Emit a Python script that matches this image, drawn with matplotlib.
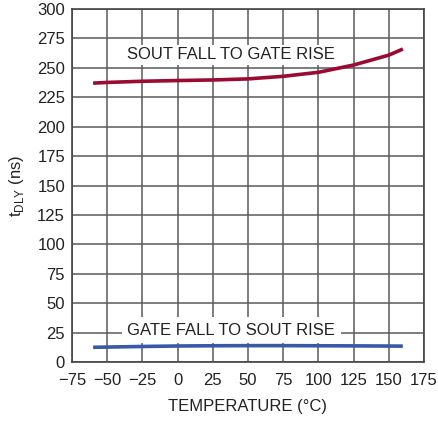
import matplotlib
matplotlib.use("Agg")
import matplotlib.pyplot as plt

# ---------- data ----------
TEMP_SOUT_GATE = [-60, -50, -25, 0, 25, 50, 75, 100, 125, 150, 160]
DLY_SOUT_GATE = [237, 237.6, 238.6, 239.2, 239.7, 240.6, 242.8, 246.2, 252.4, 260.8, 266.0]

TEMP_GATE_SOUT = [-60, -25, 0, 25, 50, 75, 100, 125, 160]
DLY_GATE_SOUT = [12.5, 13.2, 13.6, 13.8, 13.9, 13.9, 13.8, 13.7, 13.5]

X_TICKS = [-75, -50, -25, 0, 25, 50, 75, 100, 125, 150, 175]
X_TICKLABELS = ["\u221275", "\u221250", "\u221225", "0", "25", "50", "75", "100", "125", "150", "175"]
Y_TICKS = [0, 25, 50, 75, 100, 125, 150, 175, 200, 225, 250, 275, 300]

RED = "#9a0a32"
BLUE = "#3a58a8"
GRID = "#5a5a5a"

plt.rcParams["font.family"] = ["Liberation Sans", "DejaVu Sans"]
FS = 12

fig = plt.figure(figsize=(4.38, 4.23), dpi=100)
ax = fig.add_axes([0.1644, 0.1442, 0.8036, 0.8345])

ax.set_xlim(-75, 175)
ax.set_ylim(0, 300)
ax.set_xticks(X_TICKS)
ax.set_xticklabels(X_TICKLABELS)
ax.set_yticks(Y_TICKS)
ax.tick_params(length=0, labelsize=FS, colors="#222222")
ax.tick_params(axis="x", pad=8)
ax.tick_params(axis="y", pad=5)
ax.grid(True, color=GRID, linewidth=1.1)
ax.set_axisbelow(True)
for s in ax.spines.values():
    s.set_color("#444444")
    s.set_linewidth(1.2)

ax.plot(TEMP_SOUT_GATE, DLY_SOUT_GATE, color=RED, linewidth=2.6, solid_capstyle="butt", zorder=3)
ax.plot(TEMP_GATE_SOUT, DLY_GATE_SOUT, color=BLUE, linewidth=2.6, solid_capstyle="butt", zorder=3)

ax.text(38, 261, "SOUT FALL TO GATE RISE", ha="center", va="center", fontsize=FS,
        color="#222222", zorder=4,
        bbox=dict(facecolor="white", edgecolor="none", pad=2))

# label sits on the 25 ns grid line, white box breaks the line
ax.text(38, 27, "GATE FALL TO SOUT RISE", ha="center", va="center", fontsize=FS,
        color="#222222", zorder=4,
        bbox=dict(facecolor="white", edgecolor="none", pad=4))

ax.set_xlabel("TEMPERATURE (\u00b0C)", fontsize=FS, labelpad=8, color="#222222")
ax.set_ylabel("t$_{\\mathregular{DLY}}$ (ns)", fontsize=FS, labelpad=8, color="#222222")

fig.savefig("out.png", dpi=100)
